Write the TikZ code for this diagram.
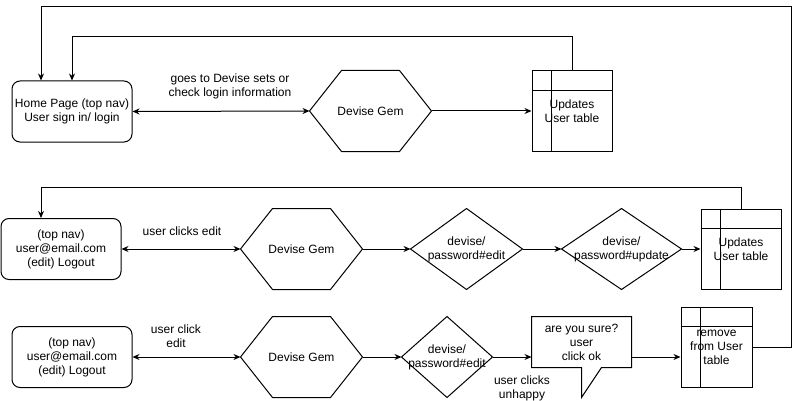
\documentclass[tikz,border=0pt]{standalone}
\usepackage{fontspec}
\setmainfont{Liberation Sans}
\usepackage{tikz}
\usetikzlibrary{
  positioning,
  calc,
  arrows.meta
}
\tikzstyle{arr}=[-{Stealth[length=7pt, width=6pt]}]
\tikzstyle{darr}=[{Stealth[length=7pt, width=6pt]}-{Stealth[length=7pt, width=6pt]}]
\tikzstyle{page}=[draw, rounded corners=8pt, minimum width=120, minimum height=61, align=center, inner sep=0pt]
\tikzstyle{hexbox}=[minimum width=121, minimum height=80, align=center, inner sep=0pt]
\tikzstyle{tbl}=[draw, minimum height=80, align=center, inner sep=0pt]
\tikzstyle{lbl}=[align=center, inner sep=0pt]

\begin{document}
\begin{tikzpicture}[x=1pt, y=-1pt, line width=1pt, font=\fontsize{12}{14}\selectfont]
      \useasboundingbox (0,0) rectangle (800,401);

      % 六角形・ひし形・表の枠
      \def\hexa#1{\draw (#1.west) -- ([xshift=32]#1.north west) -- ([xshift=-32]#1.north east)
        -- (#1.east) -- ([xshift=-32]#1.south east) -- ([xshift=32]#1.south west) -- cycle;}
      \def\dia#1{\draw (#1.west) -- (#1.north) -- (#1.east) -- (#1.south) -- cycle;}
      \def\grid#1{\draw ([yshift=-20]#1.north west) -- ([yshift=-20]#1.north east);
        \draw ([xshift=20]#1.north west) -- ([xshift=20]#1.south west);}

      % 1段目
      \node (home) at (72,111.5) [page]{Home Page (top nav)\\User sign in/ login};
      \node (gem1) at (370.5,111) [hexbox]{Devise Gem};
      \node (tab1) at (572,111) [tbl, minimum width=80]{Updates\\User table};
      \hexa{gem1}
      \grid{tab1}
      \node (lab1) at (230,86) [lbl]{goes to Devise sets or\\check login information};

      % 2段目
      \node (box2) at (61,249) [page]{(top nav)\\user@email.com\\(edit) Logout};
      \node (gem2) at (301.5,249) [hexbox]{Devise Gem};
      \node (edit2) at (466.5,249) [hexbox, minimum width=111]{devise/\\password\#edit};
      \node (upd2) at (621.5,249) [hexbox, minimum width=119]{devise/\\password\#update};
      \node (tab2) at (741,249) [tbl, minimum width=80]{Updates\\User table};
      \hexa{gem2}
      \dia{edit2}
      \dia{upd2}
      \grid{tab2}
      \node (lab2) at (182,231) [lbl]{user clicks edit};

      % 3段目
      \node (box3) at (72,357) [page]{(top nav)\\user@email.com\\(edit) Logout};
      \node (gem3) at (301.5,357) [hexbox]{Devise Gem};
      \node (edit3) at (447,357) [hexbox, minimum width=90]{devise/\\password\#edit};
      \node (ask) at (581.5,342) [minimum width=99, minimum height=50, align=center, inner sep=0pt]{are you sure?\\user\\click ok};
      \node (tab3) at (716.5,347) [tbl, minimum width=71]{remove\\from User\\table};
      \hexa{gem3}
      \dia{edit3}
      \grid{tab3}
      % 吹き出し
      \draw (ask.north west) -- (ask.north east) -- (ask.south east) -- ([xshift=70]ask.south west)
        -- ([xshift=50,yshift=-30]ask.south west) -- ([xshift=50]ask.south west) -- (ask.south west) -- cycle;
      \node (lab3) at (176,336) [lbl]{user click\\edit};
      \node (lab4) at (522,388) [lbl]{user clicks\\unhappy};

      % 矢印
      \draw[darr] (home.east) -- (gem1.west);
      \draw[arr] (gem1.east) -- (tab1.west);
      \draw[darr] (box2.east) -- (gem2.west);
      \draw[arr] (gem2.east) -- (edit2.west);
      \draw[arr] (edit2.east) -- (upd2.west);
      \draw[arr] (upd2.east) -- (tab2.west);
      \draw[darr] (box3.east) -- (gem3.west);
      \draw[arr] (gem3.east) -- (edit3.west);
      \draw[arr] (edit3.east) -- (edit3.east -| ask.west);
      \draw[arr] (edit3.east -| ask.east) -- (edit3.east -| tab3.west);

      % 戻りの線
      \coordinate (up1) at (72,37);
      \coordinate (up2) at (41,187);
      \coordinate (top) at (791,7);
      \draw[arr] (tab1.north) |- (up1) -- (home.north);
      \draw[arr] (tab2.north) |- (up2) -- (up2 |- box2.north);
      \draw[arr] (tab3.east) -| (top) -| ([xshift=-31]home.north);
\end{tikzpicture}
\end{document}
